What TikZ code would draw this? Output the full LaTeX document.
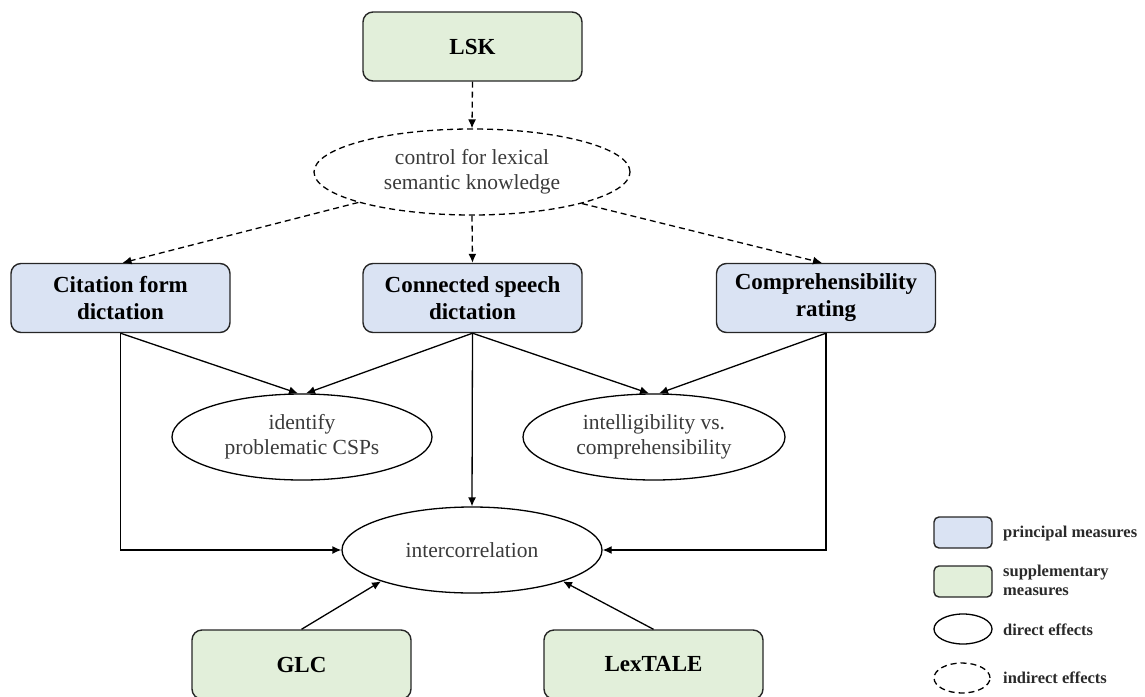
\documentclass[tikz,border=0pt]{standalone}
\usepackage{fontspec}
\setmainfont{Liberation Serif}
\usetikzlibrary{arrows.meta,shapes.geometric}
\definecolor{principal}{HTML}{DAE3F3}
\definecolor{supplement}{HTML}{E2EFDA}
\definecolor{edgecol}{HTML}{262626}
\definecolor{softtext}{HTML}{3A3A3A}
\definecolor{legendtext}{HTML}{2A2A2A}

\begin{document}
\begin{tikzpicture}[x=1pt,y=-1pt,
  measure/.style={draw=edgecol, line width=1.4pt, rounded corners=10pt,
    minimum width=219pt, minimum height=69pt, inner sep=0pt, align=center,
    font=\fontsize{23}{27}\selectfont\bfseries},
  principalbox/.style={measure, fill=principal},
  supplbox/.style={measure, fill=supplement},
  effect/.style={ellipse, draw=black, line width=1.3pt, minimum height=86pt,
    inner sep=0pt, align=center, text=softtext,
    font=\fontsize{21.5}{25}\selectfont},
  indirect/.style={effect, dash pattern=on 6pt off 4pt},
  link/.style={line width=1.3pt, -{Latex[length=9pt,width=8pt]}},
  dashedlink/.style={link, dash pattern=on 6pt off 4pt},
  keybox/.style={draw=edgecol, line width=1.4pt, rounded corners=5pt,
    minimum width=58pt, minimum height=31pt, inner sep=0pt},
  keyoval/.style={ellipse, draw=black, line width=1.3pt,
    minimum width=58pt, minimum height=30pt, inner sep=0pt},
  keytext/.style={anchor=west, align=left, inner sep=0pt, text=legendtext,
    font=\fontsize{16.5}{19}\selectfont\bfseries}
]
\useasboundingbox (0,0) rectangle (1145,696);

% measures
\node[supplbox] (lsk) at (472.5,46.5) {LSK};
\node[indirect, minimum width=316pt] (ctrl) at (472,172)
  {control for lexical\\semantic knowledge};
\node[principalbox] (cite) at (120.5,298) {Citation form\\dictation};
\node[principalbox] (conn) at (472.5,298) {Connected speech\\dictation};
\node[principalbox] (comp) at (826,298) {Comprehensibility\\rating};

% effects
\node[effect, minimum width=260pt] (ident) at (302,437)
  {identify\\problematic CSPs};
\node[effect, minimum width=262pt] (intel) at (654,437)
  {intelligibility vs.\\comprehensibility};
\node[effect, minimum width=260pt] (inter) at (472,550) {intercorrelation};

\node[supplbox] (glc) at (301.5,664.5) {GLC};
\node[supplbox] (lex) at (653.5,664.5) {LexTALE};

% indirect paths
\draw[dashedlink] (lsk.south) -- (ctrl.north);
\draw[dashedlink] (ctrl.195) -- ([xshift=2pt]cite.north);
\draw[dashedlink] (ctrl.south) -- (conn.north);
\draw[dashedlink] (ctrl.344) -- ([xshift=-4pt]comp.north);

% direct paths
\draw[link] (cite.south) -- ([xshift=-4pt]ident.north);
\draw[link] (conn.south) -- ([xshift=4pt]ident.north);
\draw[link] (conn.south) -- ([xshift=-5pt]intel.north);
\draw[link] (comp.south) -- ([xshift=5pt]intel.north);
\draw[link] (conn.south) -- (inter.north);
\draw[link] (cite.south) |- (inter.west);
\draw[link] (comp.south) |- (inter.east);
\draw[link] (glc.north) -- (inter.199);
\draw[link] (lex.north) -- (inter.341);

% legend
\node[keybox, fill=principal] (kp) at (963,532.5) {};
\node[keybox, fill=supplement] (ks) at (963,581.5) {};
\node[keyoval] (kd) at (963,629) {};
\node[keyoval, dash pattern=on 6pt off 4pt, minimum width=56pt] (ki) at (962,678) {};
\node[keytext] (kpt) at (1003,534) {principal measures};
\node[keytext] (kst) at (1003,580) {supplementary\\measures};
\node[keytext] (kdt) at (1003,630) {direct effects};
\node[keytext] (kit) at (1003,678) {indirect effects};
\end{tikzpicture}
\end{document}
